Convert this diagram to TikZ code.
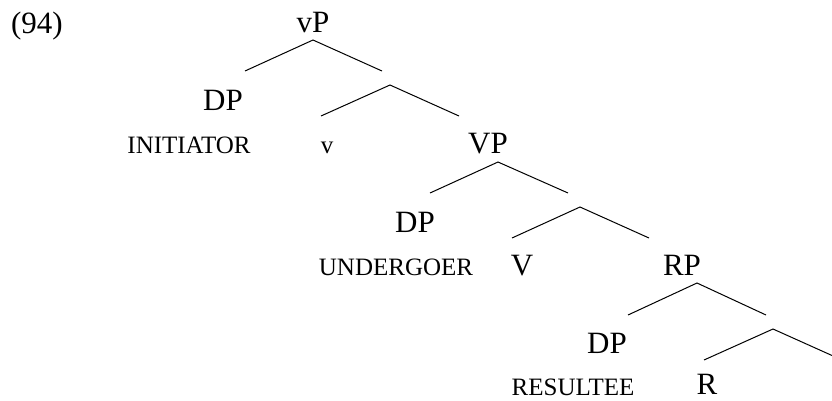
\documentclass[tikz,border=0pt]{standalone}
\usepackage{fontspec}
\setmainfont{Liberation Serif}
\begin{document}
\begin{tikzpicture}[x=1pt,y=-1pt,
  lab/.style={anchor=base,inner sep=0pt,text depth=0pt,font=\fontsize{31}{31}\selectfont},
  role/.style={anchor=base,inner sep=0pt,text depth=0pt,font=\fontsize{25}{25}\selectfont},
  br/.style={line width=1pt}]
\useasboundingbox (0,0) rectangle (832,400);
\node[lab] (ex) at (37,33) {(94)};
\node[lab] (vP) at (313,32) {vP};
\node[lab] (DP1) at (223,110) {DP};
\node[role] (INI) at (189,153) {INITIATOR};
\node[role] (v) at (327,153) {v};
\node[lab] (VP) at (488,153) {VP};
\node[lab] (DP2) at (415,232) {DP};
\node[role] (UND) at (396,275) {UNDERGOER};
\node[lab] (V) at (522,275) {V};
\node[lab] (RP) at (682,275) {RP};
\node[lab] (DP3) at (607,353) {DP};
\node[role] (RES) at (573,395) {RESULTEE};
\node[lab] (R) at (707,394) {R};
% branch coordinates
\coordinate (a1) at (313,40);
\coordinate (l1) at (245,71);
\coordinate (r1) at (382,71);
\coordinate (a2) at (390,85);
\coordinate (l2) at (321,116);
\coordinate (r2) at (459,116);
\coordinate (a3) at (498,162);
\coordinate (l3) at (430,193);
\coordinate (r3) at (568,193);
\coordinate (a4) at (580,207);
\coordinate (l4) at (512,238);
\coordinate (r4) at (649,238);
\coordinate (a5) at (697,283);
\coordinate (l5) at (628,315);
\coordinate (r5) at (766,315);
\coordinate (a6) at (773,329);
\coordinate (l6) at (704,360);
\coordinate (r6) at (832,355.5);
\draw[br] (l1) -- (a1) -- (r1);
\draw[br] (l2) -- (a2) -- (r2);
\draw[br] (l3) -- (a3) -- (r3);
\draw[br] (l4) -- (a4) -- (r4);
\draw[br] (l5) -- (a5) -- (r5);
\draw[br] (l6) -- (a6) -- (r6);
\end{tikzpicture}
\end{document}
